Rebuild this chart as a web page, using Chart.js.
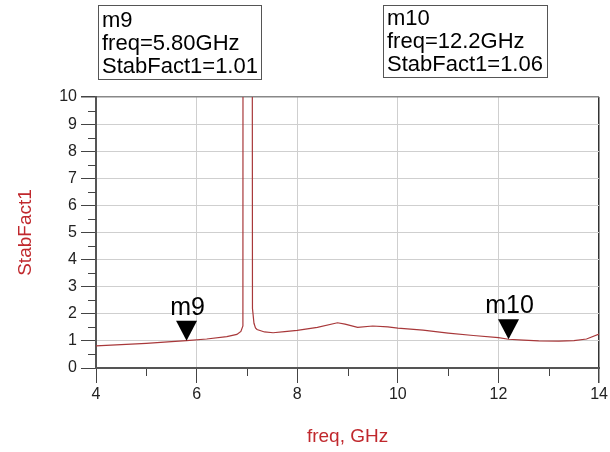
<!DOCTYPE html>
<html>
<head>
<meta charset="utf-8">
<script src="https://cdn.jsdelivr.net/npm/chart.js@4"></script>
<style>
  body { margin: 0; background: #fff; }
  #wrap { width: 610px; height: 452px; }
</style>
</head>
<body>
<div id="wrap"><canvas id="stabChart" width="610" height="452"></canvas></div>
<script>
// stability factor sweep
const freqGHz = [4.0, 4.5, 5.0, 5.5, 5.8, 6.2, 6.6, 6.8, 6.88, 6.92, 6.925, 7.1, 7.11, 7.14, 7.17, 7.2,
  7.35, 7.52, 7.75, 8.0, 8.4, 8.8, 8.95, 9.2, 9.5, 9.8, 10.0, 10.5, 11.0, 11.5, 12.0, 12.2,
  12.5, 12.8, 13.2, 13.5, 13.75, 14.0];
const stabFact1 = [0.82, 0.86, 0.91, 0.97, 1.01, 1.07, 1.16, 1.24, 1.35, 1.55, 30, 30, 2.2, 1.65, 1.48, 1.42,
  1.33, 1.30, 1.34, 1.39, 1.50, 1.67, 1.62, 1.50, 1.55, 1.52, 1.47, 1.40, 1.29, 1.20, 1.12, 1.06,
  1.03, 1.00, 0.99, 1.01, 1.07, 1.25];

// markers
const markerNames = ["m9", "m10"];
const markerFreq = [5.8, 12.2];
const markerVal = [1.01, 1.06];

const FONT = "'Liberation Sans', Arial, sans-serif";
const RED = "#c0282d";

const markerPlugin = {
  id: "markers",
  afterDraw(chart) {
    const ctx = chart.ctx;
    const xs = chart.scales.x, ys = chart.scales.y;
    ctx.save();

    // minor ticks
    ctx.strokeStyle = "#444";
    ctx.lineWidth = 1;
    ctx.beginPath();
    for (let v = 5; v < 14; v += 2) {
      const px = Math.round(xs.getPixelForValue(v)) + 0.5;
      ctx.moveTo(px, ys.bottom + 1);
      ctx.lineTo(px, ys.bottom + 8);
    }
    for (let v = 0.5; v < 10; v += 1) {
      const py = Math.round(ys.getPixelForValue(v)) + 0.5;
      ctx.moveTo(xs.left - 8, py);
      ctx.lineTo(xs.left, py);
    }
    ctx.stroke();

    // triangles with names
    markerNames.forEach((name, i) => {
      const px = xs.getPixelForValue(markerFreq[i]);
      const py = ys.getPixelForValue(markerVal[i]);
      ctx.fillStyle = "#000";
      ctx.beginPath();
      ctx.moveTo(px, py);
      ctx.lineTo(px - 10.5, py - 20);
      ctx.lineTo(px + 10.5, py - 20);
      ctx.closePath();
      ctx.fill();
      ctx.font = "25px " + FONT;
      ctx.textAlign = "center";
      ctx.textBaseline = "alphabetic";
      ctx.fillText(name, px + 1, py - 26);
    });

    // readout boxes
    const boxes = [{ x: 98, y: 5, w: 163, h: 74, base: 27 }, { x: 383, y: 5, w: 164, h: 72, base: 25 }];
    markerNames.forEach((name, i) => {
      const b = boxes[i];
      ctx.strokeStyle = "#555";
      ctx.lineWidth = 1;
      ctx.strokeRect(b.x + 0.5, b.y + 0.5, b.w, b.h);
      ctx.fillStyle = "#000";
      ctx.font = "22px " + FONT;
      ctx.textAlign = "left";
      const lines = [name, "freq=" + markerFreq[i].toPrecision(3) + "GHz", "StabFact1=" + markerVal[i].toFixed(2)];
      lines.forEach((t, k) => ctx.fillText(t, b.x + 4, b.base + k * 23));
    });
    ctx.restore();
  }
};

new Chart(document.getElementById("stabChart"), {
  type: "scatter",
  data: {
    datasets: [{
      data: freqGHz.map((f, i) => ({ x: f, y: stabFact1[i] })),
      showLine: true,
      borderColor: "#a8383a",
      borderWidth: 1.2,
      pointRadius: 0,
      tension: 0
    }]
  },
  options: {
    responsive: false,
    animation: false,
    layout: { padding: { top: 97, right: 10, left: 0, bottom: 0 } },
    plugins: { legend: { display: false }, tooltip: { enabled: false } },
    scales: {
      x: {
        type: "linear",
        min: 4,
        max: 14,
        afterFit: (s) => { s.height = 84; },
        ticks: { stepSize: 2, color: "#222", padding: 2, font: { family: FONT, size: 16 } },
        grid: {
          color: (c) => (c.tick && c.tick.value === 14 ? "#333" : "#cfcfcf"),
          lineWidth: (c) => (c.tick && c.tick.value === 14 ? 1.5 : 1),
          tickLength: 15,
          tickColor: "#444",
          drawTicks: true
        },
        border: { color: "#555", width: 2 },
        title: {
          display: true,
          text: "freq, GHz",
          color: RED,
          font: { family: FONT, size: 19 },
          padding: { top: 0, bottom: 4 }
        }
      },
      y: {
        min: 0,
        max: 10,
        afterFit: (s) => { s.width = 96; },
        ticks: { stepSize: 1, color: "#222", padding: 4, font: { family: FONT, size: 16 } },
        grid: {
          color: (c) => (c.tick && c.tick.value === 10 ? "#888" : "#cfcfcf"),
          lineWidth: (c) => (c.tick && c.tick.value === 10 ? 1.5 : 1),
          tickLength: 15,
          tickColor: "#444",
          drawTicks: true
        },
        border: { color: "#555", width: 2 },
        title: {
          display: true,
          text: "StabFact1",
          color: RED,
          font: { family: FONT, size: 19 },
          padding: { top: 14, bottom: 0 }
        }
      }
    }
  },
  plugins: [markerPlugin]
});
</script>
</body>
</html>
